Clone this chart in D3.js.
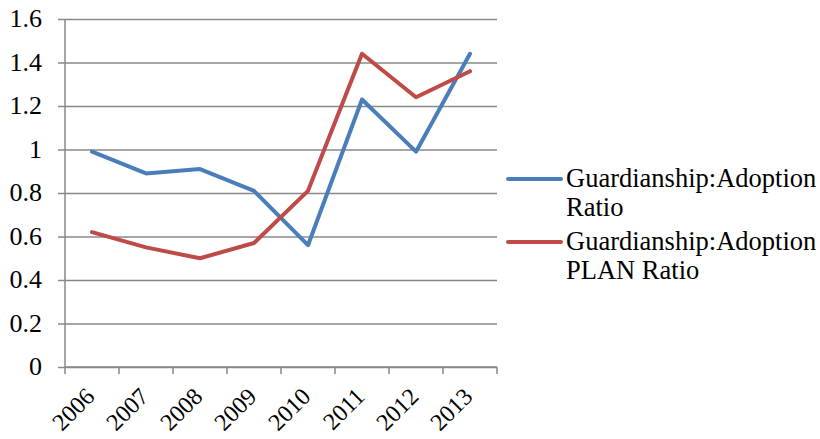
<!DOCTYPE html>
<html>
<head>
<meta charset="utf-8">
<script src="https://cdn.jsdelivr.net/npm/d3@7"></script>
<style>
  body { margin: 0; background: #fff; }
  text { font-family: "Liberation Serif", "Times New Roman", serif; fill: #000; }
</style>
</head>
<body>
<div id="chart"></div>
<script>
const years = ['2006', '2007', '2008', '2009', '2010', '2011', '2012', '2013']
const ratio = [0.99, 0.89, 0.91, 0.81, 0.56, 1.23, 0.99, 1.44]
const planRatio = [0.62, 0.55, 0.50, 0.57, 0.81, 1.44, 1.24, 1.36]
const yTicks = [0, 0.2, 0.4, 0.6, 0.8, 1, 1.2, 1.4, 1.6]
const legendLines = [['Guardianship:Adoption', 'Ratio'], ['Guardianship:Adoption', 'PLAN Ratio']]
const colors = ['#4A7EBB', '#BE4B48']

const width = 820
const height = 439
const plotLeft = 65
const plotRight = 497
const plotTop = 19
const plotBottom = 367
const fontSize = '26px'

const svg = d3.select('#chart')
    .append('svg')
    .attr('width', width)
    .attr('height', height)

const x = d3.scaleBand()
    .domain(years)
    .range([plotLeft, plotRight])

const y = d3.scaleLinear()
    .domain([0, 1.6])
    .range([plotBottom, plotTop])

// gridlines + y labels
const yAxis = d3.axisLeft(y)
    .tickValues(yTicks)
    .tickSize(-(plotRight - plotLeft))
    .tickSizeOuter(0)
    .tickPadding(23)
    .tickFormat(d => String(+d.toFixed(1)))

const gy = svg.append('g')
    .attr('transform', `translate(${plotLeft}, 0)`)
    .call(yAxis)
    .attr('font-family', null)
    .attr('font-size', null)
gy.select('.domain').remove()
gy.selectAll('.tick line')
    .attr('x1', -7)
    .attr('stroke', '#888')
    .attr('stroke-width', 1.5)
gy.selectAll('.tick text')
    .attr('dy', '0.3em')
    .style('font-size', fontSize)

svg.append('line')
    .attr('x1', plotLeft).attr('x2', plotLeft)
    .attr('y1', plotTop).attr('y2', plotBottom)
    .attr('stroke', '#888')
    .attr('stroke-width', 1.5)

// x axis, ticks sit between categories
const gx = svg.append('g')
    .attr('transform', `translate(0, ${plotBottom})`)
gx.append('line')
    .attr('x1', plotLeft).attr('x2', plotRight)
    .attr('stroke', '#888')
    .attr('stroke-width', 1.5)
const boundaries = years.map(d => x(d)).concat([x(years[years.length - 1]) + x.bandwidth()])
gx.selectAll('.xtick')
    .data(boundaries)
    .enter()
    .append('line')
    .attr('x1', d => d).attr('x2', d => d)
    .attr('y1', 0).attr('y2', 7)
    .attr('stroke', '#888')
    .attr('stroke-width', 1.5)
gx.selectAll('.xlabel')
    .data(years)
    .enter()
    .append('text')
    .attr('text-anchor', 'end')
    .style('font-size', '24px')
    .attr('transform', d => `translate(${x(d) + x.bandwidth() / 2 + 4}, 31) rotate(-45)`)
    .text(d => d)

// lines
const line = d3.line()
    .x((d, i) => x(years[i]) + x.bandwidth() / 2)
    .y(d => y(d))

;[ratio, planRatio].forEach((vals, k) => {
    svg.append('path')
        .datum(vals)
        .attr('fill', 'none')
        .attr('stroke', colors[k])
        .attr('stroke-width', 4)
        .attr('stroke-linejoin', 'round')
        .attr('stroke-linecap', 'round')
        .attr('d', line)
})

// legend
const legendY = [179, 242]
legendLines.forEach((lines, k) => {
    const g = svg.append('g')
    g.append('line')
        .attr('x1', 508).attr('x2', 561)
        .attr('y1', legendY[k]).attr('y2', legendY[k])
        .attr('stroke', colors[k])
        .attr('stroke-width', 4)
        .attr('stroke-linecap', 'round')
    g.append('text')
        .attr('x', 566)
        .attr('y', legendY[k] + 8)
        .style('font-size', '26.5px')
        .selectAll('tspan')
        .data(lines)
        .enter()
        .append('tspan')
        .attr('x', 566)
        .attr('dy', (d, i) => i === 0 ? 0 : 29)
        .text(d => d)
})
</script>
</body>
</html>
